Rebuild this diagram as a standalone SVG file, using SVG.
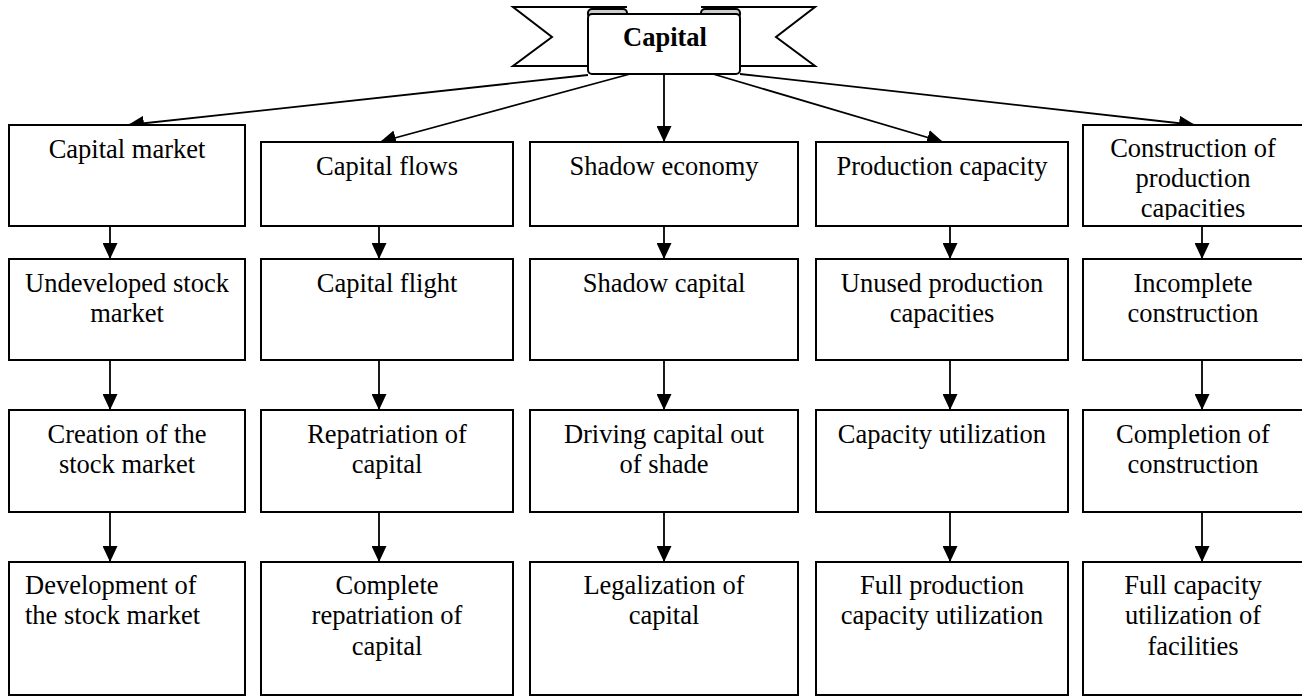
<svg xmlns="http://www.w3.org/2000/svg" width="1302" height="696" viewBox="0 0 1302 696">
<style>
.box{fill:#fff;stroke:#000;stroke-width:2}
.t{font-family:"Liberation Serif","Times New Roman",serif;font-size:26.5px;fill:#000;text-anchor:middle}
.tl{text-anchor:start}
.b{font-weight:bold}
.con line{stroke:#000;stroke-width:1.8;marker-end:url(#ah)}
.ban{fill:#fff;stroke:#000;stroke-width:2;stroke-linejoin:miter}
</style>
<defs>
<marker id="ah" markerWidth="16" markerHeight="15" refX="16" refY="7.5" orient="auto" markerUnits="userSpaceOnUse"><path d="M0,0 L16,7.5 L0,15 z" fill="#000"/></marker>
<clipPath id="clip5"><rect x="1083" y="125" width="236" height="95"/></clipPath>
</defs>
<rect width="1302" height="696" fill="#fff"/>

<g id="capital">
<path class="ban" d="M627,7 L513,7 L552,37 L513,66 L588,66"/>
<path class="ban" d="M701,7 L815,7 L776,37 L815,66 L740,66"/>
<rect x="588" y="9" width="39" height="9" rx="4" fill="#ccc" stroke="#000" stroke-width="2"/>
<rect x="701" y="9" width="39" height="9" rx="4" fill="#ccc" stroke="#000" stroke-width="2"/>
<rect class="box" x="588" y="14" width="152" height="60" rx="4"/>
<text class="t b" x="665" y="46">Capital</text>
</g>

<g class="con">
<line x1="588" y1="75" x2="128" y2="125"/>
<line x1="630" y1="74" x2="380" y2="142"/>
<line x1="664" y1="74" x2="664" y2="142"/>
<line x1="713" y1="74" x2="943" y2="142"/>
<line x1="740" y1="74" x2="1195" y2="125"/>
<line x1="110" y1="226" x2="110" y2="259"/>
<line x1="110" y1="360" x2="110" y2="410"/>
<line x1="110" y1="512" x2="110" y2="562"/>
<line x1="379" y1="226" x2="379" y2="259"/>
<line x1="379" y1="360" x2="379" y2="410"/>
<line x1="379" y1="512" x2="379" y2="562"/>
<line x1="664" y1="226" x2="664" y2="259"/>
<line x1="664" y1="360" x2="664" y2="410"/>
<line x1="664" y1="512" x2="664" y2="562"/>
<line x1="950" y1="226" x2="950" y2="259"/>
<line x1="950" y1="360" x2="950" y2="410"/>
<line x1="950" y1="512" x2="950" y2="562"/>
<line x1="1202" y1="226" x2="1202" y2="259"/>
<line x1="1202" y1="360" x2="1202" y2="410"/>
<line x1="1202" y1="512" x2="1202" y2="562"/>
</g>

<g id="c1r1"><rect class="box" x="9" y="125" width="236" height="101"/><text class="t" x="127" y="158">Capital market</text></g>
<g id="c2r1"><rect class="box" x="261" y="142" width="252" height="84"/><text class="t" x="387" y="175">Capital flows</text></g>
<g id="c3r1"><rect class="box" x="530" y="142" width="268" height="84"/><text class="t" x="664" y="175">Shadow economy</text></g>
<g id="c4r1"><rect class="box" x="816" y="142" width="252" height="84"/><text class="t" x="942" y="175">Production capacity</text></g>
<g id="c5r1"><rect class="box" x="1083" y="125" width="236" height="101"/><g clip-path="url(#clip5)"><text class="t" x="1193" y="157">Construction of</text><text class="t" x="1193" y="187">production</text><text class="t" x="1193" y="217">capacities</text></g></g>

<g id="c1r2"><rect class="box" x="9" y="259" width="236" height="101"/><text class="t" x="127" y="292">Undeveloped stock</text><text class="t" x="127" y="322">market</text></g>
<g id="c2r2"><rect class="box" x="261" y="259" width="252" height="101"/><text class="t" x="387" y="292">Capital flight</text></g>
<g id="c3r2"><rect class="box" x="530" y="259" width="268" height="101"/><text class="t" x="664" y="292">Shadow capital</text></g>
<g id="c4r2"><rect class="box" x="816" y="259" width="252" height="101"/><text class="t" x="942" y="292">Unused production</text><text class="t" x="942" y="322">capacities</text></g>
<g id="c5r2"><rect class="box" x="1083" y="259" width="236" height="101"/><text class="t" x="1193" y="292">Incomplete</text><text class="t" x="1193" y="322">construction</text></g>

<g id="c1r3"><rect class="box" x="9" y="410" width="236" height="102"/><text class="t" x="127" y="443">Creation of the</text><text class="t" x="127" y="473">stock market</text></g>
<g id="c2r3"><rect class="box" x="261" y="410" width="252" height="102"/><text class="t" x="387" y="443">Repatriation of</text><text class="t" x="387" y="473">capital</text></g>
<g id="c3r3"><rect class="box" x="530" y="410" width="268" height="102"/><text class="t" x="664" y="443">Driving capital out</text><text class="t" x="664" y="473">of shade</text></g>
<g id="c4r3"><rect class="box" x="816" y="410" width="252" height="102"/><text class="t" x="942" y="443">Capacity utilization</text></g>
<g id="c5r3"><rect class="box" x="1083" y="410" width="236" height="102"/><text class="t" x="1193" y="443">Completion of</text><text class="t" x="1193" y="473">construction</text></g>

<g id="c1r4"><rect class="box" x="9" y="562" width="236" height="133"/><text class="t tl" x="25" y="594">Development of</text><text class="t tl" x="25" y="624">the stock market</text></g>
<g id="c2r4"><rect class="box" x="261" y="562" width="252" height="133"/><text class="t" x="387" y="594">Complete</text><text class="t" x="387" y="624">repatriation of</text><text class="t" x="387" y="655">capital</text></g>
<g id="c3r4"><rect class="box" x="530" y="562" width="268" height="133"/><text class="t" x="664" y="594">Legalization of</text><text class="t" x="664" y="624">capital</text></g>
<g id="c4r4"><rect class="box" x="816" y="562" width="252" height="133"/><text class="t" x="942" y="594">Full production</text><text class="t" x="942" y="624">capacity utilization</text></g>
<g id="c5r4"><rect class="box" x="1083" y="562" width="236" height="133"/><text class="t" x="1193" y="594">Full capacity</text><text class="t" x="1193" y="624">utilization of</text><text class="t" x="1193" y="655">facilities</text></g>
</svg>
